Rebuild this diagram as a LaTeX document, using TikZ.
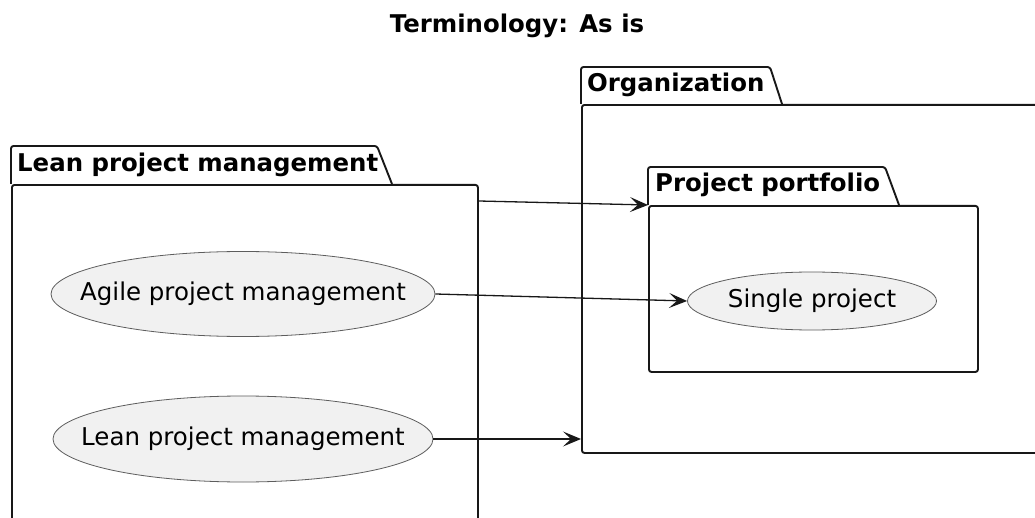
\documentclass[tikz,border=0pt]{standalone}
\usepackage{fontspec}
\setmainfont{DejaVu Sans}
\usetikzlibrary{arrows.meta,calc,shapes.geometric}
\definecolor{ink}{HTML}{181818}
\definecolor{ucfill}{HTML}{F1F1F1}
\newcommand\uclabel[1]{\makebox[0pt]{#1}}
\begin{document}
\begin{tikzpicture}[x=1pt,y=-1pt,
  pkgbody/.style={draw=ink,line width=1.9pt,rounded corners=2.5pt,fill=white,
    inner sep=0pt,anchor=north west},
  pkgtab/.style={draw=ink,line width=1.9pt,rounded corners=2.5pt,fill=white},
  pkgname/.style={font=\bfseries\fontsize{24.4}{28}\selectfont,anchor=base west,inner sep=0pt},
  usecase/.style={ellipse,draw=ink!70,line width=0.8pt,fill=ucfill,inner sep=0pt,
    font=\fontsize{24.5}{28}\selectfont},
  link/.style={draw=ink,line width=1.3pt,-{Stealth[length=18pt,width=15pt,inset=8pt]}}]
\useasboundingbox (0,0) rectangle (1035,518);
\clip (0,0) rectangle (1035,518);

% title
\node[font=\bfseries\fontsize{24.4}{28}\selectfont,anchor=base] (title) at (517,33) {Terminology: As is};

% package bodies
\node[pkgbody,minimum width=466pt,minimum height=350pt] (lean) at (11,184) {};
\node[pkgbody,minimum width=480pt,minimum height=348pt] (org) at (581,104) {};
\node[pkgbody,minimum width=329pt,minimum height=166pt] (port) at (648,205) {};

% package tabs
\draw[pkgtab] (lean.north west) -- (11,146) -- (377,146) -- (392,184);
\draw[pkgtab] (org.north west) -- (581,67) -- (770,67) -- (782,104);
\draw[pkgtab] (port.north west) -- (648,167) -- (885,167) -- (899,205);

% package names
\node[pkgname] (leanname) at (17,172) {Lean project management};
\node[pkgname] (orgname) at (587,92) {Organization};
\node[pkgname] (portname) at (655,192) {Project portfolio};

% use cases
\node[usecase,minimum width=384pt,minimum height=85pt] (agile) at (243,294) {\uclabel{Agile project management}};
\node[usecase,minimum width=380pt,minimum height=86pt] (leanuc) at (243,439) {\uclabel{Lean project management}};
\node[usecase,minimum width=249pt,minimum height=58pt] (single) at (812,301) {\uclabel{Single project}};

% relations
\draw[link] ([yshift=-17pt]lean.north east) -- (port.north west);
\draw[link] (agile.east) -- (single.west);
\draw[link] (leanuc.east) -- (leanuc.east -| org.west);
\end{tikzpicture}
\end{document}
